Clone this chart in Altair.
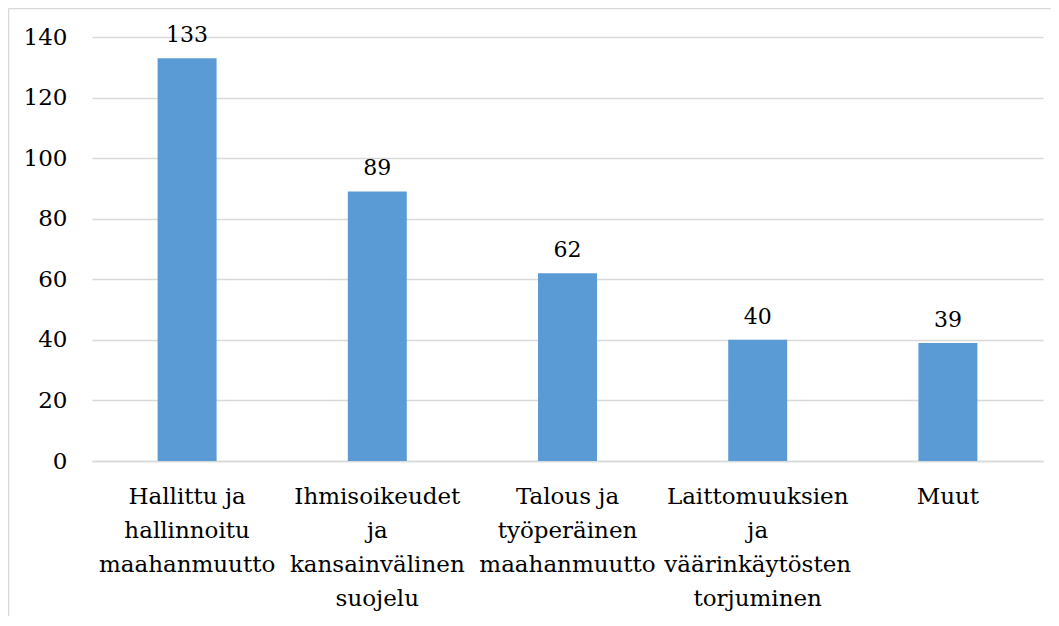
import altair as alt
import pandas as pd

categories = [
    "Hallittu ja\nhallinnoitu\nmaahanmuutto",
    "Ihmisoikeudet\nja\nkansainvälinen\nsuojelu",
    "Talous ja\ntyöperäinen\nmaahanmuutto",
    "Laittomuuksien\nja\nväärinkäytösten\ntorjuminen",
    "Muut",
]
values = [133, 89, 62, 40, 39]
y_ticks = [0, 20, 40, 60, 80, 100, 120, 140]

df = pd.DataFrame({"category": categories, "value": values})

FONT = "DejaVu Serif"
W, H = 951, 424
BOTTOM = 155

x_enc = alt.X(
    "category:N",
    sort=categories,
    scale=alt.Scale(paddingInner=0.69, paddingOuter=0.345),
    axis=alt.Axis(
        title=None,
        labelAngle=0,
        labelExpr="split(datum.label, '\\n')",
        labelFont=FONT,
        labelFontSize=23,
        labelColor="#000000",
        labelLineHeight=34,
        labelPadding=24,
        labelLimit=400,
        ticks=False,
        domainColor="#d9d9d9",
        domainWidth=1.5,
        grid=False,
    ),
)
y_enc = alt.Y(
    "value:Q",
    scale=alt.Scale(domain=[0, 140], nice=False),
    axis=alt.Axis(
        title=None,
        values=y_ticks,
        labelFont=FONT,
        labelFontSize=23,
        labelColor="#000000",
        labelPadding=25,
        ticks=False,
        domain=False,
        grid=True,
        gridColor="#d9d9d9",
        gridWidth=1.5,
    ),
)

bars = alt.Chart(df).mark_bar(color="#5b9bd5").encode(x=x_enc, y=y_enc)
labels = alt.Chart(df).mark_text(
    font=FONT, fontSize=22, color="#000000", baseline="alphabetic", dy=-16
).encode(x=alt.X("category:N", sort=categories), y="value:Q", text="value:Q")

border_top = alt.Chart(df.head(1)).mark_rule(color="#d9d9d9", strokeWidth=1.5).encode(
    x=alt.value(-83.5), x2=alt.value(W + 8), y=alt.value(-28.5)
)
border_left = alt.Chart(df.head(1)).mark_rule(color="#d9d9d9", strokeWidth=1.5).encode(
    x=alt.value(-83.5), y=alt.value(-28.5), y2=alt.value(H + BOTTOM)
)

chart = (
    alt.layer(bars, labels, border_top, border_left)
    .properties(
        width=W,
        height=H,
        autosize=alt.AutoSizeParams(type="none"),
        padding={"left": 84, "top": 29, "right": 8, "bottom": BOTTOM},
    )
    .configure_view(stroke=None)
)

chart.save("out.html", embed_options={"renderer": "svg", "actions": False})
